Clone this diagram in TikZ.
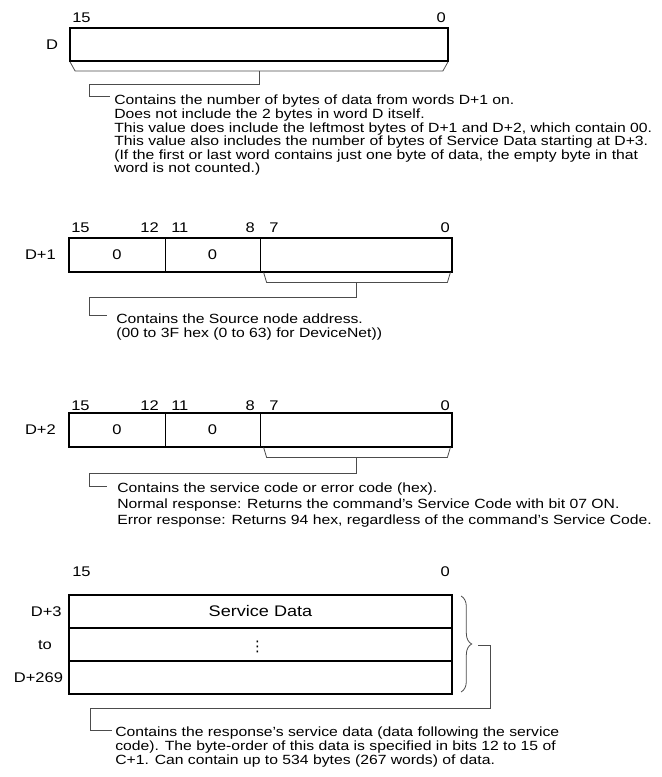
\documentclass[tikz,border=0pt]{standalone}
\usepackage{fontspec}
\setmainfont{Liberation Sans}[FakeStretch=1.18]
\newfontfamily\symfont{DejaVu Sans}
\usetikzlibrary{positioning,fit,calc,decorations.pathreplacing}
\newcommand{\notefont}{\fontsize{10}{10.2}\selectfont}
\newcommand{\lblfont}{\fontsize{10.5}{12}\selectfont}
\tikzset{
  wordbox/.style={draw,line width=1.4pt,inner sep=0pt},
  cell/.style={draw,line width=0.6pt,inner sep=0pt},
  cellval/.style={font=\lblfont,inner sep=0pt},
  bitnum/.style={font=\lblfont,inner sep=0pt},
  wordlbl/.style={font=\lblfont,inner sep=0pt},
  note/.style={font=\notefont,align=left,anchor=north west,inner sep=0pt},
  conn/.style={draw=black!70,line width=0.6pt},
  rbrace/.style={draw=black!70,line width=0.6pt,decorate,
                 decoration={brace,amplitude=8pt}},
}

\begin{document}
\begin{tikzpicture}[x=0.75pt,y=-0.75pt]
  \useasboundingbox (0,0) rectangle (661,777);

  % word D
  \node[wordbox,fit={(70,28) (448,61)}] (wd) {};
  \node[wordlbl,left=8pt of wd] (wdlbl) {D};
  \node[bitnum,anchor=west] (wd15) at (72,18) {15};
  \node[bitnum,anchor=east] (wd0) at (446,18) {0};
  \coordinate (ndin) at (110,96);
  \node[note] (nd) at (114,95)
    {Contains the number of bytes of data from words D+1 on.\\
     Does not include the 2 bytes in word D itself.\\
     This value does include the leftmost bytes of D+1 and D+2, which contain 00.\\
     This value also includes the number of bytes of Service Data starting at D+3.\\
     (If the first or last word contains just one byte of data, the empty byte in that\\
     word is not counted.)};
  \draw[conn] ($(wd.south west)+(1,0)$) -- ($(wd.south west)+(6,9)$)
    -- ($(wd.south east)+(-6,9)$) -- ($(wd.south east)+(-1,0)$);
  \draw[conn] ($(wd.south)+(0,9)$) -- ++(0,13) -| ($(ndin)+(-21,0)$) -- (ndin);

  % word D+1
  \node[cell,fit={(69,238) (165,272)}] (w1a) {};
  \node[cell,fit={(165,238) (260,272)}] (w1b) {};
  \node[cell,fit={(260,238) (452,272)}] (w1c) {};
  \node[wordbox,fit={(69,238) (452,272)}] (w1) {};
  \node[cellval] (w1av) at (w1a.center) {0};
  \node[cellval] (w1bv) at (w1b.center) {0};
  \node[wordlbl,left=9pt of w1] (w1lbl) {D+1};
  \node[bitnum,anchor=west] (w115) at (71,228) {15};
  \node[bitnum,anchor=east] (w112) at (159,228) {12};
  \node[bitnum,anchor=west] (w111) at (171,228) {11};
  \node[bitnum,anchor=east] (w18) at (255,228) {8};
  \node[bitnum,anchor=west] (w17) at (269,228) {7};
  \node[bitnum,anchor=east] (w10) at (450,228) {0};
  \coordinate (n1in) at (107,315);
  \node[note] (n1) at (116,314)
    {Contains the Source node address.\\
     (00 to 3F hex (0 to 63) for DeviceNet))};
  \draw[conn] ($(w1c.south west)+(4,0)$) -- ($(w1c.south west)+(7,10)$)
    -- ($(w1c.south east)+(-5,10)$) -- ($(w1c.south east)+(-2,0)$);
  \draw[conn] ($(w1c.south)+(0,10)$) -- ++(0,15) -| ($(n1in)+(-18,0)$) -- (n1in);

  % word D+2
  \node[cell,fit={(69,413) (165,447)}] (w2a) {};
  \node[cell,fit={(165,413) (260,447)}] (w2b) {};
  \node[cell,fit={(260,413) (452,447)}] (w2c) {};
  \node[wordbox,fit={(69,413) (452,447)}] (w2) {};
  \node[cellval] (w2av) at (w2a.center) {0};
  \node[cellval] (w2bv) at (w2b.center) {0};
  \node[wordlbl,left=9pt of w2] (w2lbl) {D+2};
  \node[bitnum,anchor=west] (w215) at (71,406) {15};
  \node[bitnum,anchor=east] (w212) at (159,406) {12};
  \node[bitnum,anchor=west] (w211) at (171,406) {11};
  \node[bitnum,anchor=east] (w28) at (255,406) {8};
  \node[bitnum,anchor=west] (w27) at (269,406) {7};
  \node[bitnum,anchor=east] (w20) at (450,406) {0};
  \coordinate (n2in) at (107,486);
  \node[note,font=\fontsize{10}{12}\selectfont] (n2) at (117,483)
    {Contains the service code or error code (hex).\\
     Normal response: Returns the command's Service Code with bit 07 ON.\\
     Error response: Returns 94 hex, regardless of the command's Service Code.};
  \draw[conn] ($(w2c.south west)+(4,0)$) -- ($(w2c.south west)+(7,10)$)
    -- ($(w2c.south east)+(-5,10)$) -- ($(w2c.south east)+(-2,0)$);
  \draw[conn] ($(w2c.south)+(0,10)$) -- ++(0,16) -| ($(n2in)+(-18,0)$) -- (n2in);

  % words D+3 to D+269
  \node[bitnum,anchor=west] (sd15) at (72,572) {15};
  \node[bitnum,anchor=east] (sd0) at (450,572) {0};
  \node[cell,fit={(69,595) (452,628)}] (sd1) {};
  \node[cell,fit={(69,628) (452,661)}] (sd2) {};
  \node[cell,fit={(69,661) (452,694)}] (sd3) {};
  \draw[line width=1.4pt] (sd1.south west) -- (sd1.south east);
  \draw[line width=1.4pt] (sd2.south west) -- (sd2.south east);
  \node[wordbox,fit={(69,595) (452,694)}] (sd) {};
  \node[cellval,font=\fontsize{11.5}{13}\selectfont] (sd1v) at (sd1.center) {Service Data};
  \node[cellval,font=\symfont\fontsize{11}{12}\selectfont] (sd2v) at ($(sd2.center)+(-3,2)$) {⋮};
  \node[wordlbl,left=5pt of sd1] (sd1lbl) {D+3};
  \node[wordlbl] (sd2lbl) at (45,645) {to};
  \node[wordlbl,left=4pt of sd3] (sd3lbl) {D+269};
  \draw[rbrace] (461,596) -- (461,692);
  \coordinate (sdtip) at (478,645);
  \coordinate (n3in) at (112,730);
  \node[note] (n3) at (115,727)
    {Contains the response's service data (data following the service\\
     code). The byte-order of this data is specified in bits 12 to 15 of\\
     C+1. Can contain up to 534 bytes (267 words) of data.};
  \draw[conn] (sdtip) -- ++(12,0) |- ($(n3in)+(-22,-22)$) -- ++(0,22) -- (n3in);
\end{tikzpicture}
\end{document}
